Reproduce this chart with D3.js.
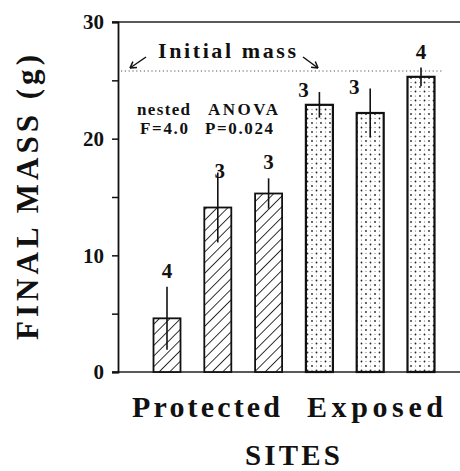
<!DOCTYPE html>
<html><head><meta charset="utf-8">
<script src="https://cdn.jsdelivr.net/npm/d3@7"></script>
<style>body{margin:0;background:#fff}svg{display:block}text{font-family:"Liberation Serif","Times New Roman",Times,serif}</style>
</head><body><svg id="c" width="460" height="471"></svg>
<script>
const sites = ["P1","P2","P3","E1","E2","E3"];
const siteType = ["protected","protected","protected","exposed","exposed","exposed"];
const means = [4.6, 14.1, 15.3, 22.9, 22.2, 25.3];
const errs = [2.7, 3.0, 1.3, 1.1, 2.1, 0.8];
const nLabels = ["4","3","3","3","3","4"];
const initialMass = 25.8;
const yTicks = [0,10,20,30];
const yMinor = [5,15,25];

const svg = d3.select("#c");
const y = d3.scaleLinear().domain([0,30]).range([372,22]);
const x = d3.scalePoint().domain(sites).range([167,421]);
const bw = 27;
const axX = 118;

const defs = svg.append("defs");
const hp = defs.append("pattern").attr("id","hatch").attr("patternUnits","userSpaceOnUse")
  .attr("width",7.5).attr("height",7.5).attr("patternTransform","rotate(45)");
hp.append("rect").attr("width",7.5).attr("height",7.5).attr("fill","#fff");
hp.append("line").attr("x1",0).attr("y1",0).attr("x2",0).attr("y2",7.5).attr("stroke","#111").attr("stroke-width",1.7);
const sp = defs.append("pattern").attr("id","stip").attr("patternUnits","userSpaceOnUse")
  .attr("width",9).attr("height",9);
sp.append("rect").attr("width",9).attr("height",9).attr("fill","#fff");
[[1.5,1.5],[6,6]].forEach(([a,b])=>sp.append("circle").attr("cx",a).attr("cy",b).attr("r",0.9).attr("fill","#222"));
[[6,1.5],[1.5,6]].forEach(([a,b])=>sp.append("circle").attr("cx",a).attr("cy",b).attr("r",0.6).attr("fill","#666"));

// frame lines
svg.append("line").attr("x1",112).attr("x2",460).attr("y1",y(30)).attr("y2",y(30)).attr("stroke","#222").attr("stroke-width",1.5);
svg.append("line").attr("x1",112).attr("x2",460).attr("y1",y(0)).attr("y2",y(0)).attr("stroke","#222").attr("stroke-width",1.5);

// y axis
const ax = svg.append("g").attr("transform",`translate(${axX},0)`)
  .call(d3.axisLeft(y).tickValues(yTicks).tickSize(6).tickPadding(8).tickFormat(d3.format("d")));
ax.select(".domain").attr("stroke","#111").attr("stroke-width",1.8);
ax.selectAll(".tick line").attr("stroke","#111").attr("stroke-width",1.5);
ax.selectAll(".tick text").attr("font-weight","bold").attr("font-size",21).attr("fill","#111");
svg.append("g").attr("transform",`translate(${axX},0)`)
  .call(d3.axisLeft(y).tickValues(yMinor).tickSize(6).tickFormat(""))
  .call(g=>{g.select(".domain").remove();g.selectAll(".tick line").attr("stroke","#111").attr("stroke-width",1.5);});

// initial mass line
svg.append("line").attr("x1",121).attr("x2",442).attr("y1",y(initialMass)).attr("y2",y(initialMass))
  .attr("stroke","#555").attr("stroke-width",1.2).attr("stroke-dasharray","1.2,2.6");

// bars
svg.selectAll("rect.bar").data(sites).join("rect").attr("class","bar")
  .attr("x",d=>x(d)-bw/2).attr("width",bw)
  .attr("y",(d,i)=>y(means[i])).attr("height",(d,i)=>y(0)-y(means[i]))
  .attr("fill",(d,i)=>siteType[i]==="protected"?"url(#hatch)":"url(#stip)")
  .attr("stroke","#111").attr("stroke-width",(d,i)=>siteType[i]==="protected"?1.8:2.2);

// error bars
svg.selectAll("line.err").data(sites).join("line").attr("class","err")
  .attr("x1",d=>x(d)).attr("x2",d=>x(d))
  .attr("y1",(d,i)=>y(means[i]+errs[i])).attr("y2",(d,i)=>y(means[i]-errs[i]))
  .attr("stroke","#111").attr("stroke-width",1.6);

// n labels
const labDx = [0,2,0,-16,-16,0];
svg.selectAll("text.n").data(sites).join("text").attr("class","n")
  .attr("x",(d,i)=>x(d)+labDx[i])
  .attr("y",(d,i)=> labDx[i]===0 ? y(means[i]+errs[i])-9 : y(means[i]+errs[i])+5)
  .attr("text-anchor","middle").attr("font-size",21).attr("font-weight","bold").attr("fill","#111")
  .text((d,i)=>nLabels[i]);

// Initial mass annotation
svg.append("text").attr("x",158).attr("y",58).attr("font-size",22).attr("font-weight","bold")
  .attr("textLength",138).attr("lengthAdjust","spacing").attr("fill","#111").text("Initial mass");
function arrow(x1,y1,x2,y2){
  svg.append("line").attr("x1",x1).attr("y1",y1).attr("x2",x2).attr("y2",y2).attr("stroke","#111").attr("stroke-width",1.5);
  const a=Math.atan2(y2-y1,x2-x1), L=7;
  [a+2.6,a-2.6].forEach(t=>svg.append("line").attr("x1",x2).attr("y1",y2)
    .attr("x2",x2+L*Math.cos(t)).attr("y2",y2+L*Math.sin(t)).attr("stroke","#111").attr("stroke-width",1.5));
}
arrow(146,57,130,68);
arrow(303,57,318,68);

// stats
const st = [["nested",137,115,53],["F=4.0",140,134,48],["ANOVA",208,115,70],["P=0.024",205,134,68]];
st.forEach(([t,xx,yy,w])=>svg.append("text").attr("x",xx).attr("y",yy).attr("font-size",17).attr("font-weight","bold")
  .attr("textLength",w).attr("lengthAdjust","spacing").attr("fill","#111").text(t));

// x labels
svg.append("text").attr("x",132).attr("y",417).attr("font-size",30).attr("font-weight","bold")
  .attr("textLength",148).attr("lengthAdjust","spacing").attr("fill","#111").text("Protected");
svg.append("text").attr("x",307).attr("y",417).attr("font-size",30).attr("font-weight","bold")
  .attr("textLength",136).attr("lengthAdjust","spacing").attr("fill","#111").text("Exposed");
svg.append("text").attr("x",245).attr("y",465).attr("font-size",29).attr("font-weight","bold")
  .attr("textLength",95).attr("lengthAdjust","spacing").attr("fill","#111").text("SITES");

// y title
svg.append("text").attr("transform","translate(38,340) rotate(-90)").attr("font-size",31).attr("font-weight","bold")
  .attr("textLength",285).attr("lengthAdjust","spacing").attr("fill","#111").text("FINAL MASS (g)");
</script></body></html>
